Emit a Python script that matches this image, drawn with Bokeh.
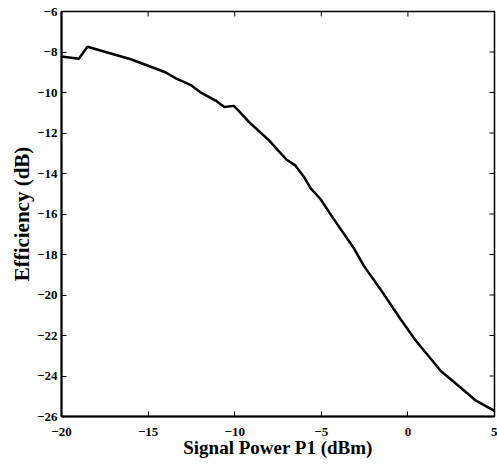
from bokeh.plotting import figure
from bokeh.models import FixedTicker, Range1d
from bokeh.embed import file_html
from bokeh.resources import INLINE

# Data
power_dbm = [-20, -19, -18.5, -16, -14, -13.4, -12.5, -12, -11.1, -10.6, -10.05,
             -9.7, -9.1, -8.0, -7.5, -7.0, -6.5, -6.0, -5.6, -5.05, -4.3, -3.1,
             -2.55, -1.6, -0.45, 0.45, 1.9, 2.9, 3.9, 5]
efficiency_db = [-8.22, -8.33, -7.74, -8.36, -9.0, -9.3, -9.65, -9.98, -10.4, -10.72,
                 -10.66, -10.97, -11.52, -12.38, -12.86, -13.32, -13.6, -14.17, -14.75,
                 -15.26, -16.23, -17.72, -18.55, -19.7, -21.16, -22.25, -23.75, -24.47,
                 -25.2, -25.72]
x_ticks = [-20, -15, -10, -5, 0, 5]
y_ticks = [-26, -24, -22, -20, -18, -16, -14, -12, -10, -8, -6]
x_min, x_max = -20, 5
y_min, y_max = -26, -6

FONT = "Liberation Serif"
TICK_PX = 5
FRAME_W, FRAME_H = 433, 405

p = figure(width=497, height=468, output_backend="svg", toolbar_location=None,
           x_range=Range1d(x_min, x_max), y_range=Range1d(y_min, y_max),
           min_border_left=61, min_border_right=3, min_border_top=11, min_border_bottom=52)

p.line(power_dbm, efficiency_db, line_color="black", line_width=2.5)

# inward ticks mirrored on the top and right edges
tick_dy = (y_max - y_min) * TICK_PX / FRAME_H
tick_dx = (x_max - x_min) * TICK_PX / FRAME_W
p.segment(x0=x_ticks, y0=[y_max] * len(x_ticks), x1=x_ticks,
          y1=[y_max - tick_dy] * len(x_ticks), line_color="black", line_width=1)
p.segment(x0=[x_max] * len(y_ticks), y0=y_ticks, x1=[x_max - tick_dx] * len(y_ticks),
          y1=y_ticks, line_color="black", line_width=1)

p.grid.visible = False
p.outline_line_color = "black"
p.outline_line_width = 1.5
p.background_fill_color = "white"
p.border_fill_color = "white"

for ax in (p.xaxis[0], p.yaxis[0]):
    ax.axis_line_width = 2
    ax.axis_line_color = "black"
    ax.major_tick_in = TICK_PX
    ax.major_tick_out = 0
    ax.minor_tick_line_color = None
    ax.major_tick_line_color = "black"
    ax.major_label_text_font = FONT
    ax.major_label_text_font_style = "bold"
    ax.major_label_text_font_size = "13px"
    ax.major_label_text_color = "black"
    ax.axis_label_text_font = FONT
    ax.axis_label_text_font_style = "bold"
    ax.axis_label_text_color = "black"

p.xaxis[0].ticker = FixedTicker(ticks=x_ticks)
p.yaxis[0].ticker = FixedTicker(ticks=y_ticks)
p.xaxis[0].axis_label = "Signal Power P1 (dBm)"
p.yaxis[0].axis_label = "Efficiency (dB)"
p.xaxis[0].axis_label_text_font_size = "19px"
p.yaxis[0].axis_label_text_font_size = "21px"
p.xaxis[0].major_label_standoff = 11
p.xaxis[0].axis_label_standoff = -2
p.yaxis[0].major_label_standoff = 4
p.yaxis[0].axis_label_standoff = 0

open("out.html", "w").write(file_html(p, INLINE))
